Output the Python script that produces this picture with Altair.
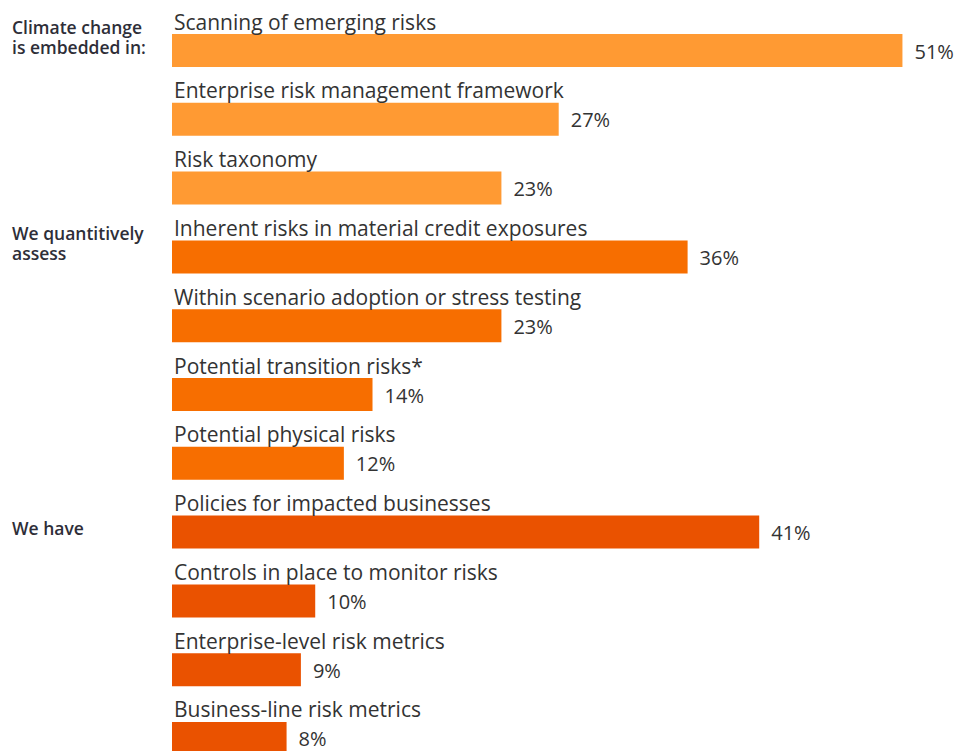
import altair as alt
import pandas as pd

groups = ["Climate change\nis embedded in:"] * 3 + ["We quantitively\nassess"] * 4 + ["We have"] * 4
labels = [
    "Scanning of emerging risks",
    "Enterprise risk management framework",
    "Risk taxonomy",
    "Inherent risks in material credit exposures",
    "Within scenario adoption or stress testing",
    "Potential transition risks*",
    "Potential physical risks",
    "Policies for impacted businesses",
    "Controls in place to monitor risks",
    "Enterprise-level risk metrics",
    "Business-line risk metrics",
]
values = [51, 27, 23, 36, 23, 14, 12, 41, 10, 9, 8]
group_order = ["Climate change\nis embedded in:", "We quantitively\nassess", "We have"]
group_colors = ["#FF9A33", "#F76E00", "#EA5200"]

df = pd.DataFrame({"group": groups, "label": labels, "value": values})
df["pct"] = df["value"].astype(str) + "%"
gdf = df.drop_duplicates("group").copy()
gdf["nlines"] = gdf["group"].str.count("\n") + 1

FONT = "Open Sans"
TXT = "#333333"

yscale = alt.Scale(domain=labels, range=[26, 747], paddingInner=0.52, paddingOuter=0, align=0)
y = alt.Y("label:N", sort=labels, scale=yscale, axis=None)
xscale = alt.Scale(domain=[0, 54.6], nice=False, zero=True)

base = alt.Chart(df)

bars = base.mark_bar().encode(
    x=alt.X("value:Q", scale=xscale, axis=None),
    y=y,
    color=alt.Color("group:N", scale=alt.Scale(domain=group_order, range=group_colors), legend=None),
)

cat_text = base.mark_text(
    align="left", baseline="alphabetic", dx=2, dy=-21, font=FONT, fontSize=21, color=TXT
).encode(x=alt.value(0), y=y, text="label:N")

val_text = base.mark_text(
    align="left", baseline="middle", dx=12, dy=2, font=FONT, fontSize=20, color=TXT
).encode(x=alt.X("value:Q", scale=xscale), y=y, text="pct:N")

grp_style = dict(align="left", baseline="alphabetic", font=FONT, fontSize=17.5, fontWeight=600,
                 color="#2E2E38", lineBreak="\n", lineHeight=20)
grp_two = alt.Chart(gdf).transform_filter(alt.datum.nlines == 2).mark_text(
    dy=-17, **grp_style
).encode(x=alt.value(-160), y=y, text="group:N")
grp_one = alt.Chart(gdf).transform_filter(alt.datum.nlines == 1).mark_text(
    dy=3, **grp_style
).encode(x=alt.value(-160), y=y, text="group:N")

chart = alt.layer(bars, cat_text, val_text, grp_two, grp_one).properties(
    width=782, height=743,
    autosize=alt.AutoSizeParams(type="none"),
    padding={"left": 164, "top": 0, "right": 4, "bottom": 0},
).configure_view(stroke=None)

chart.save("out.html", embed_options={"renderer": "svg", "actions": False})
